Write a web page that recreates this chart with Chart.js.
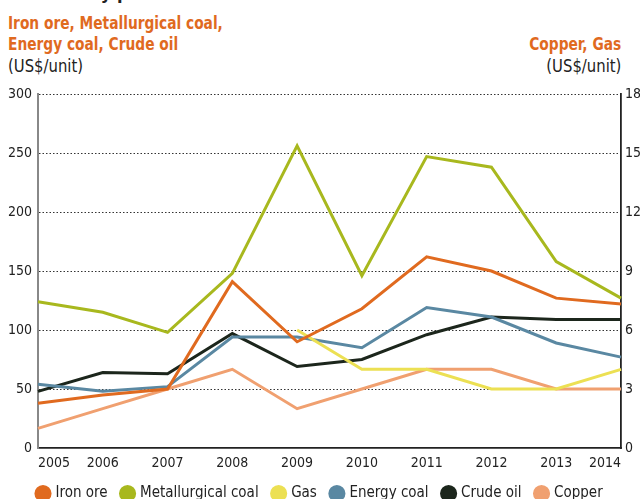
<!DOCTYPE html>
<html>
<head>
<meta charset="utf-8">
<script src="https://cdn.jsdelivr.net/npm/chart.js@4.4.1/dist/chart.umd.min.js"></script>
<style>
  html, body { margin: 0; padding: 0; background: #fff; overflow: hidden; }
  body { width: 640px; height: 499px; position: relative; font-family: 'DejaVu Sans Condensed', sans-serif; }
  .title { position: absolute; left: 8px; top: -18px; font-size: 18px; line-height: 21px; font-weight: bold; color: #222; white-space: nowrap; }
  .head { position: absolute; font-size: 17px; font-weight: bold; color: #e06a1f; line-height: 21px; white-space: nowrap; transform: scaleX(0.9); }
  .unit { position: absolute; font-size: 17px; color: #222; white-space: nowrap; transform: scaleX(0.97); }
  .l { transform-origin: left top; }
  .r { transform-origin: right top; }
  #wrap { position: absolute; left: 0; top: 0; width: 640px; height: 511px; }
</style>
</head>
<body>
<div class="title">Commodity prices</div>
<div class="head l" style="left:8px; top:13px;">Iron ore, Metallurgical coal,<br>Energy coal, Crude oil</div>
<div class="unit l" style="left:8px; top:56px;">(US$/unit)</div>
<div class="head r" style="right:19px; top:34px;">Copper, Gas</div>
<div class="unit r" style="right:19px; top:56px;">(US$/unit)</div>
<div id="wrap"><canvas id="chart"></canvas></div>
<script>
// Years on the x axis
const years = ['2005', '2006', '2007', '2008', '2009', '2010', '2011', '2012', '2013', '2014'];

// Left axis series (US$/unit)
const ironOre = [38, 45, 50, 141, 90, 118, 162, 150, 127, 122];
const metCoal = [124, 115, 98, 148, 256, 146, 247, 238, 158, 127];
const energyCoal = [54, 48, 52, 94, 94, 85, 119, 111, 89, 77];
const crudeOil = [48, 64, 63, 97, 69, 75, 96, 111, 109, 109];

// Right axis series (US$/unit)
const gas = [null, null, null, null, 6, 4, 4, 3, 3, 4];
const copper = [1, 2, 3, 4, 2, 3, 4, 4, 3, 3];

const fontFamily = "'DejaVu Sans Condensed', sans-serif";

function line(label, data, color, axis) {
    return {
        label: label,
        data: data,
        borderColor: color,
        backgroundColor: color,
        borderWidth: 3,
        pointRadius: 0,
        tension: 0,
        spanGaps: false,
        yAxisID: axis
    };
}

// nudge the legend so it starts at the plot's left edge
const legendShift = {
    id: 'legendShift',
    afterLayout(chart) {
        if (chart.legend) {
            chart.legend.left += 23;
            chart.legend.right += 23;
        }
    }
};

new Chart(document.getElementById('chart'), {
    type: 'line',
    data: {
        labels: years,
        datasets: [
            line('Iron ore', ironOre, '#e06a1f', 'y'),
            line('Metallurgical coal', metCoal, '#a8b81e', 'y'),
            line('Gas', gas, '#ece053', 'y1'),
            line('Energy coal', energyCoal, '#5a88a2', 'y'),
            line('Crude oil', crudeOil, '#1c261c', 'y'),
            line('Copper', copper, '#f0a070', 'y1')
        ]
    },
    plugins: [legendShift],
    options: {
        responsive: true,
        maintainAspectRatio: false,
        animation: false,
        layout: { padding: { top: 94, left: 0, right: 0, bottom: 0 } },
        plugins: {
            tooltip: { enabled: false },
            legend: {
                position: 'bottom',
                align: 'start',
                labels: {
                    usePointStyle: true,
                    pointStyle: 'circle',
                    boxWidth: 10,
                    boxHeight: 10,
                    padding: 15,
                    color: '#222',
                    font: { family: fontFamily, size: 15 }
                }
            }
        },
        scales: {
            x: {
                offset: false,
                grid: { display: false, drawTicks: false },
                border: { color: '#222', width: 1.8 },
                ticks: { color: '#222', font: { family: fontFamily, size: 14 }, padding: 7, maxRotation: 0, align: 'inner' },
                afterFit: s => { s.height = 23; }
            },
            y: {
                position: 'left',
                min: 0,
                max: 300,
                ticks: { stepSize: 50, color: '#222', font: { family: fontFamily, size: 14 }, padding: 6 },
                grid: {
                    color: ctx => ctx.tick.value === 0 ? 'rgba(0,0,0,0)' : '#333',
                    lineWidth: 1,
                    drawTicks: false
                },
                border: { color: '#888', width: 2, dash: [1.5, 2] },
                afterFit: s => { s.width = 38; }
            },
            y1: {
                position: 'right',
                min: 0,
                max: 18,
                ticks: { stepSize: 3, color: '#222', font: { family: fontFamily, size: 14 }, padding: 4 },
                grid: { display: false, drawTicks: false },
                border: { color: '#222', width: 1.8 },
                afterFit: s => { s.width = 19; }
            }
        }
    }
});
</script>
</body>
</html>
